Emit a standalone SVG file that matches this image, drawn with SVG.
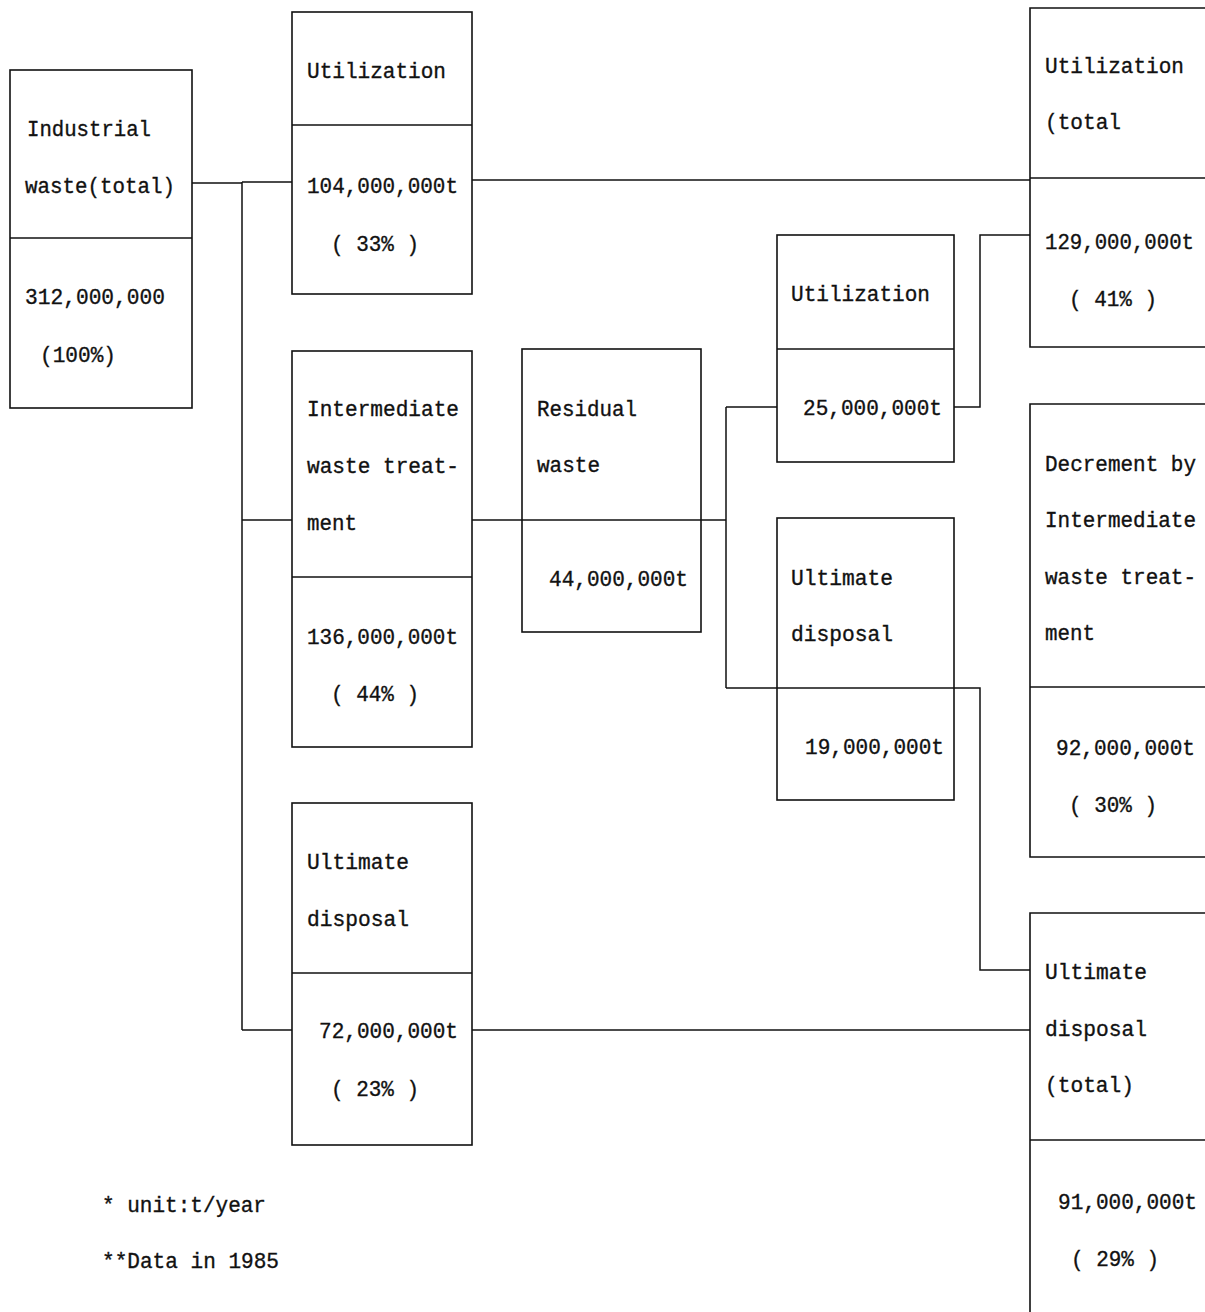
<svg xmlns="http://www.w3.org/2000/svg" width="1205" height="1312" viewBox="0 0 1205 1312">
<style>
.box{fill:none;stroke:#111;stroke-width:1.6}
.div{stroke:#111;stroke-width:1.6}
.con{fill:none;stroke:#111;stroke-width:1.5}
text{font-family:"Liberation Mono","DejaVu Sans Mono",monospace;font-size:22px;fill:#111;stroke:#111;stroke-width:0.35}
</style>
<rect width="1205" height="1312" fill="#fff"/>
<g id="connectors">
<path class="con" d="M192,183 H242 M242,182 H292 M242,182 V1030 M242,520 H292 M242,1030 H292"/>
<path class="con" d="M472,180 H1030"/>
<path class="con" d="M472,520 H522 M701,520 H726 M726,407 V688 M726,407 H777"/>
<path class="con" d="M954,407 H980 V235 H1030"/>
<path class="con" d="M726,688 H777 M954,688 H980 V970 H1030"/>
<path class="con" d="M472,1030 H1030"/>
</g>
<g id="n-industrial">
<rect class="box" x="10" y="70" width="182" height="338"/>
<line class="div" x1="10" y1="238" x2="192" y2="238"/>
<text x="27" y="136" textLength="124" lengthAdjust="spacingAndGlyphs">Industrial</text>
<text x="25" y="193" textLength="150" lengthAdjust="spacingAndGlyphs">waste(total)</text>
<text x="25" y="304" textLength="140" lengthAdjust="spacingAndGlyphs">312,000,000</text>
<text x="40" y="362" textLength="76" lengthAdjust="spacingAndGlyphs">(100%)</text>
</g>
<g id="n-util1">
<rect class="box" x="292" y="12" width="180" height="282"/>
<line class="div" x1="292" y1="125" x2="472" y2="125"/>
<text x="307" y="78" textLength="139" lengthAdjust="spacingAndGlyphs">Utilization</text>
<text x="307" y="193" textLength="151" lengthAdjust="spacingAndGlyphs">104,000,000t</text>
<text x="331" y="251" textLength="88" lengthAdjust="spacingAndGlyphs">( 33% )</text>
</g>
<g id="n-inter">
<rect class="box" x="292" y="351" width="180" height="396"/>
<line class="div" x1="292" y1="577" x2="472" y2="577"/>
<text x="307" y="416" textLength="152" lengthAdjust="spacingAndGlyphs">Intermediate</text>
<text x="307" y="473" textLength="152" lengthAdjust="spacingAndGlyphs">waste treat-</text>
<text x="307" y="530" textLength="50" lengthAdjust="spacingAndGlyphs">ment</text>
<text x="307" y="644" textLength="151" lengthAdjust="spacingAndGlyphs">136,000,000t</text>
<text x="331" y="701" textLength="88" lengthAdjust="spacingAndGlyphs">( 44% )</text>
</g>
<g id="n-ult1">
<rect class="box" x="292" y="803" width="180" height="342"/>
<line class="div" x1="292" y1="973" x2="472" y2="973"/>
<text x="307" y="869" textLength="102" lengthAdjust="spacingAndGlyphs">Ultimate</text>
<text x="307" y="926" textLength="102" lengthAdjust="spacingAndGlyphs">disposal</text>
<text x="319" y="1038" textLength="139" lengthAdjust="spacingAndGlyphs">72,000,000t</text>
<text x="331" y="1096" textLength="88" lengthAdjust="spacingAndGlyphs">( 23% )</text>
</g>
<g id="n-residual">
<rect class="box" x="522" y="349" width="179" height="283"/>
<line class="div" x1="522" y1="520" x2="701" y2="520"/>
<text x="537" y="416" textLength="100" lengthAdjust="spacingAndGlyphs">Residual</text>
<text x="537" y="472" textLength="63" lengthAdjust="spacingAndGlyphs">waste</text>
<text x="549" y="586" textLength="139" lengthAdjust="spacingAndGlyphs">44,000,000t</text>
</g>
<g id="n-util2">
<rect class="box" x="777" y="235" width="177" height="227"/>
<line class="div" x1="777" y1="349" x2="954" y2="349"/>
<text x="791" y="301" textLength="139" lengthAdjust="spacingAndGlyphs">Utilization</text>
<text x="803" y="415" textLength="139" lengthAdjust="spacingAndGlyphs">25,000,000t</text>
</g>
<g id="n-ult2">
<rect class="box" x="777" y="518" width="177" height="282"/>
<line class="div" x1="777" y1="688" x2="954" y2="688"/>
<text x="791" y="585" textLength="102" lengthAdjust="spacingAndGlyphs">Ultimate</text>
<text x="791" y="641" textLength="102" lengthAdjust="spacingAndGlyphs">disposal</text>
<text x="805" y="754" textLength="139" lengthAdjust="spacingAndGlyphs">19,000,000t</text>
</g>
<g id="n-utiltotal">
<path class="box" d="M1205,8 H1030 V347 H1205"/>
<line class="div" x1="1030" y1="178" x2="1205" y2="178"/>
<text x="1045" y="73" textLength="139" lengthAdjust="spacingAndGlyphs">Utilization</text>
<text x="1045" y="129" textLength="76" lengthAdjust="spacingAndGlyphs">(total</text>
<text x="1045" y="249" textLength="149" lengthAdjust="spacingAndGlyphs">129,000,000t</text>
<text x="1069" y="306" textLength="88" lengthAdjust="spacingAndGlyphs">( 41% )</text>
</g>
<g id="n-decrement">
<path class="box" d="M1205,404 H1030 V857 H1205"/>
<line class="div" x1="1030" y1="687" x2="1205" y2="687"/>
<text x="1045" y="471" textLength="151" lengthAdjust="spacingAndGlyphs">Decrement by</text>
<text x="1045" y="527" textLength="151" lengthAdjust="spacingAndGlyphs">Intermediate</text>
<text x="1045" y="584" textLength="151" lengthAdjust="spacingAndGlyphs">waste treat-</text>
<text x="1045" y="640" textLength="50" lengthAdjust="spacingAndGlyphs">ment</text>
<text x="1056" y="755" textLength="139" lengthAdjust="spacingAndGlyphs">92,000,000t</text>
<text x="1069" y="812" textLength="88" lengthAdjust="spacingAndGlyphs">( 30% )</text>
</g>
<g id="n-ulttotal">
<path class="box" d="M1205,913 H1030 V1312"/>
<line class="div" x1="1030" y1="1140" x2="1205" y2="1140"/>
<text x="1045" y="979" textLength="102" lengthAdjust="spacingAndGlyphs">Ultimate</text>
<text x="1045" y="1036" textLength="102" lengthAdjust="spacingAndGlyphs">disposal</text>
<text x="1045" y="1092" textLength="89" lengthAdjust="spacingAndGlyphs">(total)</text>
<text x="1058" y="1209" textLength="139" lengthAdjust="spacingAndGlyphs">91,000,000t</text>
<text x="1071" y="1266" textLength="88" lengthAdjust="spacingAndGlyphs">( 29% )</text>
</g>
<g id="notes">
<text x="102" y="1212" textLength="164" lengthAdjust="spacingAndGlyphs">* unit:t/year</text>
<text x="102" y="1268" textLength="177" lengthAdjust="spacingAndGlyphs">**Data in 1985</text>
</g>
</svg>
